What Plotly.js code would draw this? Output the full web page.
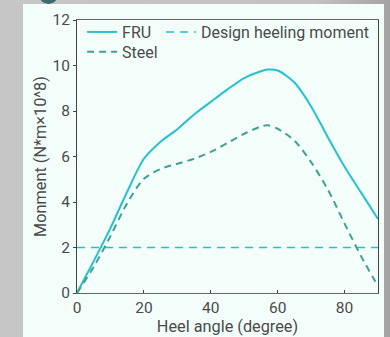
<!DOCTYPE html>
<html>
<head>
<meta charset="utf-8">
<script src="https://cdn.plot.ly/plotly-3.0.1.min.js"></script>
<style>
  html, body { margin: 0; padding: 0; width: 390px; height: 337px; overflow: hidden;
    background: linear-gradient(to right, #c6c6c6 0%, #c2c2c2 80%, #a4a4a4 100%); }
  #panel { position: absolute; left: 23px; top: 4px; width: 361px; height: 333px; background: #f3fefb; }
  #chart { position: absolute; left: 0; top: 0; width: 361px; height: 333px; }
  #dot { position: absolute; left: 39px; top: -15px; width: 19px; height: 19px; border-radius: 50%; background: #3d6a6a; }
</style>
</head>
<body>
<div id="panel"><div id="chart"></div></div>
<div id="dot"></div>
<script>
// Heel angle (degree)
const heelAngle = [0, 5, 10, 15, 20, 25, 30, 35, 40, 45, 50, 55, 57, 60, 65, 70, 75, 80, 85, 90];
// Righting moment, N*m x 10^8
const fruMoment   = [0, 1.4, 2.85, 4.45, 5.9, 6.65, 7.2, 7.85, 8.4, 8.95, 9.45, 9.75, 9.82, 9.78, 9.25, 8.2, 6.85, 5.55, 4.4, 3.25];
const steelMoment = [0, 1.15, 2.5, 3.95, 5.02, 5.45, 5.68, 5.9, 6.2, 6.6, 7.0, 7.32, 7.37, 7.22, 6.7, 5.75, 4.55, 3.05, 1.6, 0.3];
const designAngle = [0, 90];
const designMoment = [2, 2];

const seriesNames = ['FRU', 'Design heeling moment', 'Steel'];
const xTicks = [0, 20, 40, 60, 80];
const yTicks = [0, 2, 4, 6, 8, 10, 12];

const txt = '#4a4a4a';
const fontFam = 'Roboto, "Open Sans", sans-serif';

const traces = [
  { x: heelAngle, y: fruMoment, name: seriesNames[0], mode: 'lines', legend: 'legend',
    line: { color: '#27c0cd', width: 2, shape: 'spline', smoothing: 0.8 } },
  { x: designAngle, y: designMoment, name: seriesNames[1], mode: 'lines', legend: 'legend2',
    line: { color: '#27c0cd', width: 1.5, dash: '8px,6px' } },
  { x: heelAngle, y: steelMoment, name: seriesNames[2], mode: 'lines', legend: 'legend3',
    line: { color: '#40a193', width: 2, dash: '7px,5px', shape: 'spline', smoothing: 0.8 } }
];

const legendCommon = { bgcolor: 'rgba(0,0,0,0)', borderwidth: 0, yanchor: 'middle', xanchor: 'left',
  font: { family: fontFam, size: 16, color: txt } };

const layout = {
  width: 361, height: 333,
  margin: { l: 54, r: 6, t: 16, b: 44, pad: 0 },
  paper_bgcolor: '#f3fefb',
  plot_bgcolor: '#f3fefb',
  font: { family: fontFam, size: 15, color: txt },
  showlegend: true,
  legend: Object.assign({ x: 0.017, y: 0.956 }, legendCommon),
  legend2: Object.assign({ x: 0.279, y: 0.956 }, legendCommon),
  legend3: Object.assign({ x: 0.017, y: 0.883 }, legendCommon),
  xaxis: {
    range: [0, 90], tickvals: xTicks, ticktext: xTicks.map(String),
    showgrid: false, zeroline: false, showline: true, linecolor: '#666', linewidth: 1, mirror: true,
    ticks: 'inside', ticklen: 3, tickcolor: '#444',
    tickfont: { family: fontFam, size: 15.5, color: txt },
    title: { text: 'Heel angle (degree)', font: { family: fontFam, size: 16.3, color: txt }, standoff: 2 },
    automargin: false
  },
  yaxis: {
    range: [0, 12], tickvals: yTicks, ticktext: yTicks.map(String),
    showgrid: false, zeroline: false, showline: true, linecolor: '#444', linewidth: 1, mirror: true,
    ticks: 'outside', ticklen: 3, tickcolor: '#444',
    tickfont: { family: fontFam, size: 15.5, color: txt },
    title: { text: 'Monment (N*m×10^8)', font: { family: fontFam, size: 16.3, color: txt }, standoff: 1 },
    automargin: false
  }
};

Plotly.newPlot('chart', traces, layout, { displayModeBar: false, staticPlot: true });
</script>
</body>
</html>
